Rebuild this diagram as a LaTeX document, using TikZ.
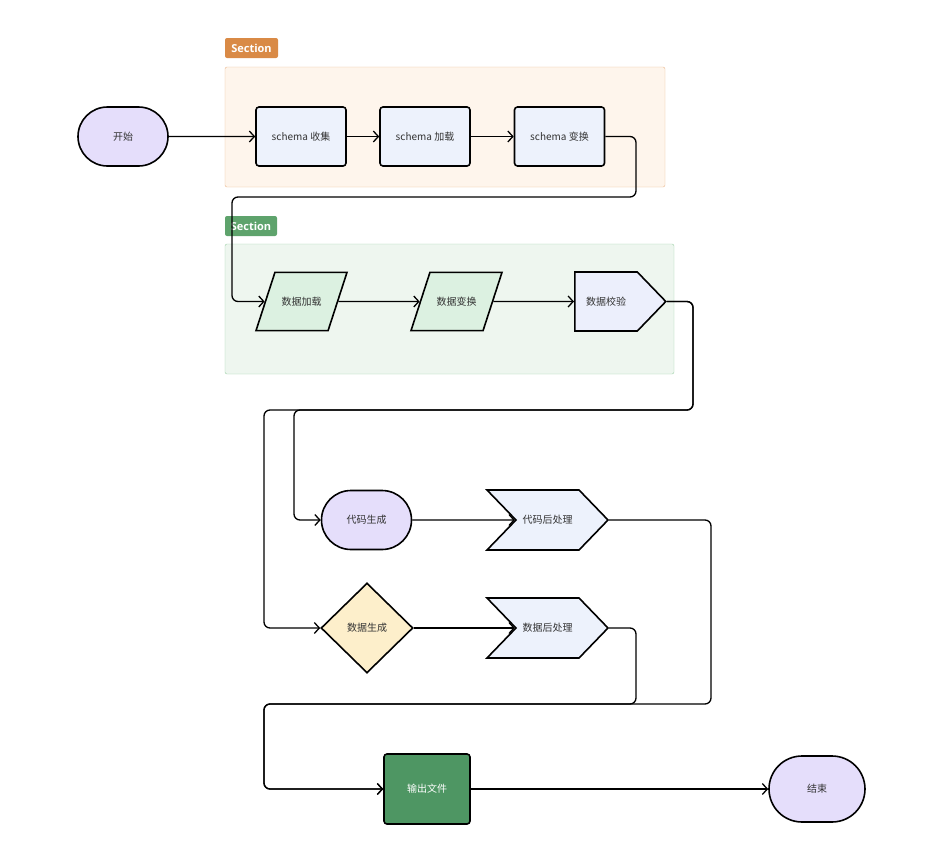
\documentclass[tikz,border=0pt]{standalone}
\usepackage{fontspec}
\newfontfamily\cjk{Noto Sans CJK SC}
\newfontfamily\secfont{Open Sans}
\usetikzlibrary{shapes.geometric,shapes.misc,shapes.symbols,arrows.meta}
\definecolor{lav}{HTML}{E5DEFB}
\definecolor{procblue}{HTML}{EDF2FC}
\definecolor{iogreen}{HTML}{DCF1E1}
\definecolor{checkblue}{HTML}{ECEFFC}
\definecolor{decyellow}{HTML}{FDEFCB}
\definecolor{outgreen}{HTML}{4E9663}
\definecolor{secorange}{HTML}{D98A46}
\definecolor{secorangebg}{HTML}{FEF5EC}
\definecolor{secorangeline}{HTML}{E9B78C}
\definecolor{secgreen}{HTML}{5EA36C}
\definecolor{secgreenbg}{HTML}{EEF6EF}
\definecolor{secgreenline}{HTML}{9ED0A8}

\begin{document}
\begin{tikzpicture}[x=1pt,y=-1pt,
  font=\cjk\fontsize{10}{12}\selectfont,
  base/.style={draw=black, line width=1.6pt, inner sep=0pt, text=black!80},
  terminal/.style={base, rounded rectangle, fill=lav, minimum width=90pt, minimum height=59pt},
  proc/.style={base, rectangle, rounded corners=3pt, fill=procblue, minimum width=90pt, minimum height=59pt},
  io/.style={base, trapezium, trapezium left angle=72, trapezium right angle=108,
    trapezium stretches body=true, inner ysep=24.5pt, fill=iogreen, minimum width=91pt},
  check/.style={base, signal, signal to=east, signal pointer angle=92, fill=checkblue,
    minimum width=91pt, minimum height=59pt},
  post/.style={base, signal, signal from=west, signal to=east, signal pointer angle=92,
    fill=procblue, minimum width=121pt, minimum height=60pt},
  decision/.style={base, diamond, fill=decyellow, minimum width=92pt, minimum height=90pt},
  output/.style={base, rectangle, rounded corners=3pt, fill=outgreen, text=white,
    minimum width=86pt, minimum height=70pt},
  seclabel/.style={rounded corners=2pt, text=white, inner sep=0pt, minimum height=20pt,
    font=\secfont\bfseries\fontsize{11}{12}\selectfont},
  flow/.style={line width=1.3pt, rounded corners=6pt, -{Straight Barb[length=5pt,width=11pt]}},
]
\useasboundingbox (0,0) rectangle (946,868);

% Sections
\draw[secorangeline, fill=secorangebg, rounded corners=2pt] (225,67) rectangle (665,187);
\node[seclabel, fill=secorange, minimum width=53pt] (sec1) at (251.5,48) {Section};
\draw[secgreenline, fill=secgreenbg, rounded corners=2pt] (225,244) rectangle (674,374);
\node[seclabel, fill=secgreen, minimum width=52pt] (sec2) at (251,226) {Section};

% Define nodes
\node[terminal] (start) at (123,136.5) {开始};
\node[proc] (schema1) at (301,136.5) {schema 收集};
\node[proc] (schema2) at (425,136.5) {schema 加载};
\node[proc] (schema3) at (559.5,136.5) {schema 变换};

\node[io] (data1) at (301.5,301.5) {数据加载};
\node[io] (data2) at (456.5,301.5) {数据变换};
\node[check, anchor=west] (data3) at (574,301.5) {数据校验};

\node[terminal] (code1) at (366.5,520) {代码生成};
\node[post] (code2) at (547.5,520) {代码后处理};
\node[decision] (gen1) at (367,628) {数据生成};
\node[post] (gen2) at (547.5,628) {数据后处理};

\node[output] (out) at (427,789) {输出文件};
\node[terminal, minimum width=96pt, minimum height=66pt] (end) at (817,789) {结束};

% Bends
\coordinate (b1) at (636,197);
\coordinate (b2) at (232,197);
\coordinate (b3) at (693,410);
\coordinate (b4) at (294,410);
\coordinate (b5) at (264,410);
\coordinate (b6) at (711,704);
\coordinate (b7) at (636,704);
\coordinate (b8) at (264,704);

% Edges
\draw[flow] (start) -- (schema1);
\draw[flow] (schema1) -- (schema2);
\draw[flow] (schema2) -- (schema3);
\draw[flow] (schema3.east) -| (b1) -- (b2) |- (data1.west);
\draw[flow] (data1) -- (data2);
\draw[flow] (data2) -- (data3);
\draw[flow] (data3.east) -| (b3) -- (b4) |- (code1.west);
\draw[flow] (data3.east) -| (b3) -- (b5) |- (gen1.west);
\draw[flow] (code1) -- (code2.west);
\draw[flow] (gen1) -- (gen2.west);
\draw[flow] (code2.east) -| (b6) -- (b8) |- (out.west);
\draw[flow] (gen2.east) -| (b7) -- (b8) |- (out.west);
\draw[flow] (out) -- (end);
\end{tikzpicture}
\end{document}
